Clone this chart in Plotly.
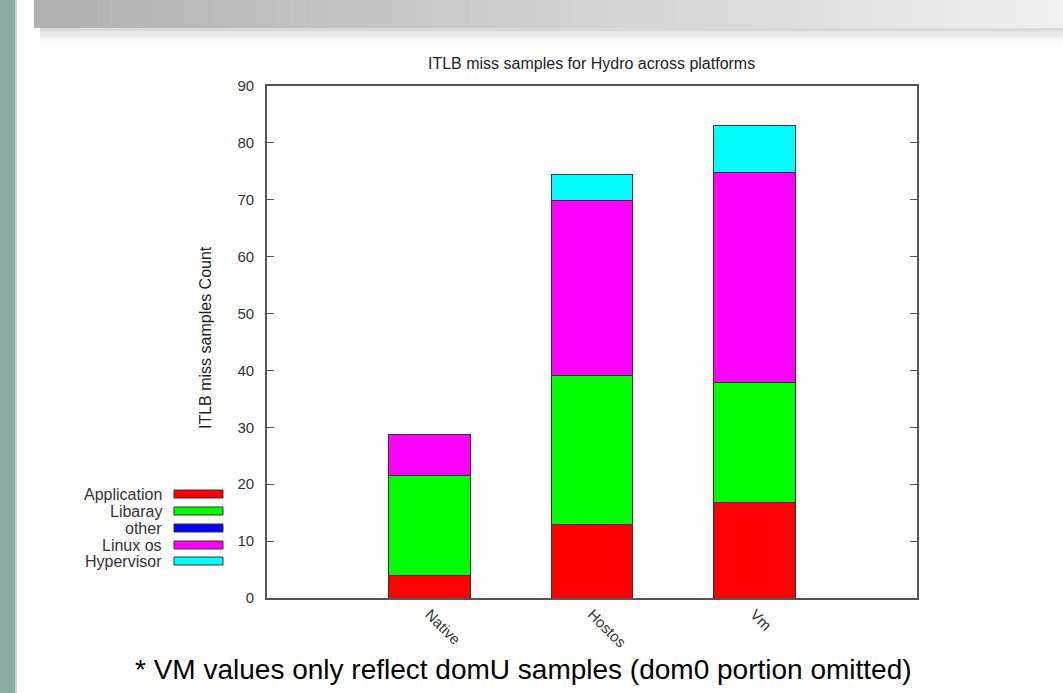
import plotly.graph_objects as go

# ---- data ----
platforms = ["Native", "Hostos", "Vm"]
application = [4.0, 13.0, 16.8]
libaray = [17.5, 26.1, 21.1]
other = [0.0, 0.0, 0.0]
linux_os = [7.3, 30.7, 36.9]
hypervisor = [0.0, 4.7, 8.2]
series_names = ["Application", "Libaray", "other", "Linux os", "Hypervisor"]
series_values = [application, libaray, other, linux_os, hypervisor]
series_colors = ["#ff0000", "#00ff00", "#0000ff", "#ff00ff", "#00ffff"]
y_ticks = [0, 10, 20, 30, 40, 50, 60, 70, 80, 90]

W, H = 1063, 693
L, R, T, B = 267, 917, 86, 598  # plot area in pixels
FONT = "Liberation Sans, Arial, sans-serif"


def px(x):
    return (x - L) / (R - L)


def py(y):
    return (B - y) / (B - T)


fig = go.Figure()
for name, vals, col in zip(series_names, series_values, series_colors):
    fig.add_trace(go.Bar(
        x=platforms, y=vals, name=name, width=0.5,
        marker=dict(color=col, line=dict(color="#333333", width=1)),
        showlegend=False,
    ))

shapes = []
annotations = []

# --- slide decoration: teal strip on the left ---
shapes.append(dict(type="rect", xref="paper", yref="paper",
                   x0=px(0), x1=px(15), y0=py(H), y1=py(0),
                   fillcolor="#8cab a3".replace(" ", ""), line=dict(width=0), layer="below"))
shapes.append(dict(type="rect", xref="paper", yref="paper",
                   x0=px(15), x1=px(17), y0=py(H), y1=py(0),
                   fillcolor="#c9dad5", line=dict(width=0), layer="below"))

# --- top gray gradient bar ---
BAR_BOTTOM = 28
N = 80
x_start, x_end = 34, W
c0 = (176, 176, 176)
c1 = (240, 240, 240)
# shadow below the bar
for j in range(14):
    ya = BAR_BOTTOM + j * 1.3
    yb = ya + 1.4
    op = 0.25 * (1 - j / 14) ** 1.6
    shapes.append(dict(type="rect", xref="paper", yref="paper",
                       x0=px(40), x1=px(W), y0=py(yb), y1=py(ya),
                       fillcolor="rgba(110,110,110,%.3f)" % op, line=dict(width=0), layer="below"))
for i in range(N):
    xa = x_start + (x_end - x_start) * i / N
    xb = x_start + (x_end - x_start) * (i + 1) / N + 0.5
    t = i / (N - 1)
    c = tuple(int(c0[k] + (c1[k] - c0[k]) * t) for k in range(3))
    shapes.append(dict(type="rect", xref="paper", yref="paper",
                       x0=px(xa), x1=px(xb), y0=py(BAR_BOTTOM), y1=py(0),
                       fillcolor="rgb(%d,%d,%d)" % c, line=dict(width=0), layer="below"))

# --- custom legend (text left of colour box, gnuplot style) ---
legend_rows = [494, 511, 528, 545, 561]
for name, col, yy in zip(series_names, series_values and series_colors, legend_rows):
    annotations.append(dict(xref="paper", yref="paper", x=px(164), y=py(yy),
                            text=name, showarrow=False, xanchor="right", yanchor="middle",
                            font=dict(family=FONT, size=16, color="#333333")))
    shapes.append(dict(type="rect", xref="paper", yref="paper",
                       x0=px(174), x1=px(223), y0=py(yy + 4), y1=py(yy - 4),
                       fillcolor=col, line=dict(color="#333333", width=1)))

# --- title, y label, footnote ---
annotations.append(dict(xref="paper", yref="paper", x=px(591), y=py(63),
                        text="ITLB miss samples for Hydro across platforms", showarrow=False,
                        xanchor="center", yanchor="middle",
                        font=dict(family=FONT, size=16, color="#222222")))
annotations.append(dict(xref="paper", yref="paper", x=px(205), y=py(338),
                        text="ITLB miss samples Count", showarrow=False, textangle=-90,
                        xanchor="center", yanchor="middle",
                        font=dict(family=FONT, size=16, color="#222222")))
annotations.append(dict(xref="paper", yref="paper", x=px(523), y=py(669),
                        text="* VM values only reflect domU samples (dom0 portion omitted)",
                        showarrow=False, xanchor="center", yanchor="middle",
                        font=dict(family=FONT, size=28, color="#000000")))

fig.update_layout(
    width=W, height=H,
    margin=dict(l=L, r=W - R, t=T, b=H - B, pad=0),
    barmode="stack",
    plot_bgcolor="white", paper_bgcolor="white",
    shapes=shapes, annotations=annotations,
    showlegend=False,
    font=dict(family=FONT, size=15, color="#333333"),
)
fig.update_xaxes(
    type="category", range=[-1, 3], showgrid=False, zeroline=False,
    showline=True, linecolor="#555555", linewidth=1.6, mirror=True,
    ticks="", tickangle=45,
    tickfont=dict(family=FONT, size=15, color="#333333"),
)
fig.update_yaxes(
    range=[0, 90], tickvals=y_ticks, showgrid=False, zeroline=False,
    showline=True, linecolor="#555555", linewidth=1.6, mirror="ticks",
    ticks="inside", ticklen=7, tickcolor="#555555", tickwidth=1.2,
    ticklabelstandoff=8,
    tickfont=dict(family=FONT, size=15, color="#333333"),
)

fig.write_html("out.html")
